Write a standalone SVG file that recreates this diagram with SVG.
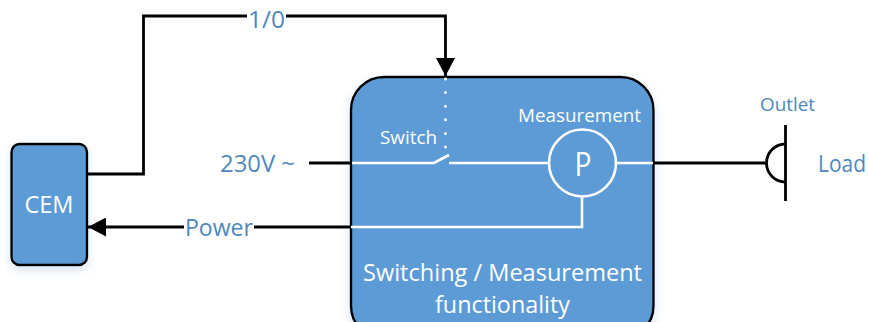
<svg xmlns="http://www.w3.org/2000/svg" width="869" height="322" viewBox="0 0 869 322">
<style>
text{font-family:"Open Sans","Noto Sans","Liberation Sans",sans-serif}
.box{fill:#5b9bd5;stroke:#000;stroke-width:2.4;filter:url(#sh)}
.k{fill:none;stroke:#000;stroke-width:2.8}
.w{fill:none;stroke:#fff;stroke-width:2.6}
.tb{fill:#4f88bd;font-size:23px}
.tw{fill:#fff;font-size:23px}
.ts{fill:#fff;font-size:18.500px}
</style>
<defs>
<filter id="sh" x="-20%" y="-20%" width="140%" height="140%"><feDropShadow dx="0" dy="4" stdDeviation="5" flood-color="#5b9bd5" flood-opacity="0.25"/></filter>
<marker id="ah" markerUnits="userSpaceOnUse" markerWidth="19" markerHeight="19" refX="18" refY="9.500" orient="auto"><path d="M0,0L18,9.500L0,19Z" fill="#000"/></marker>
</defs>
<g id="cem"><rect class="box" x="11.500" y="144" width="75.500" height="121" rx="8"/><text class="tw" x="24.500" y="213" textLength="49" lengthAdjust="spacingAndGlyphs">CEM</text></g>
<g id="unit"><rect class="box" x="351" y="77" width="302.500" height="262" rx="33"/>
<text class="tw" x="363" y="281" textLength="279" lengthAdjust="spacingAndGlyphs">Switching / Measurement</text>
<text class="tw" x="435" y="313" textLength="135" lengthAdjust="spacingAndGlyphs">functionality</text>
<text class="ts" x="380" y="144" textLength="57" lengthAdjust="spacingAndGlyphs">Switch</text>
<text class="ts" x="518" y="122" textLength="123" lengthAdjust="spacingAndGlyphs">Measurement</text></g>
<g id="meter"><circle class="w" cx="582.500" cy="163" r="33.500"/><text x="583" y="176" text-anchor="middle" fill="#fff" font-size="33" textLength="17" lengthAdjust="spacingAndGlyphs">P</text></g>
<g id="outlet"><path class="k" d="M785.500,125V201"/><path class="k" d="M785.500,144A19,19 0 0 0 785.500,182"/></g>
<g id="connectors">
<path class="k" d="M87,174H143.500V16H445.500V76" marker-end="url(#ah)"/>
<path class="k" d="M351,227H88" marker-end="url(#ah)"/>
<path class="k" d="M309,163H352"/>
<path class="k" d="M653,163H766"/>
<path class="w" d="M352,163H434L449,155M449,163H549"/>
<path class="w" d="M616,163H653"/>
<path class="w" d="M351,227H582V197"/>
<path d="M445.500,79V150" fill="none" stroke="#fff" stroke-width="3" stroke-linecap="round" stroke-dasharray="0 13.600"/>
</g>
<g id="labels">
<rect x="247" y="5" width="39" height="24" fill="#fff"/>
<text class="tb" x="248" y="28" textLength="37" lengthAdjust="spacingAndGlyphs">1/0</text>
<text class="tb" x="220" y="172" textLength="75" lengthAdjust="spacingAndGlyphs">230V ~</text>
<rect x="184" y="216" width="70" height="22" fill="#fff"/>
<text class="tb" x="185" y="236" textLength="68" lengthAdjust="spacingAndGlyphs">Power</text>
<text class="tb" x="818" y="172" textLength="48" lengthAdjust="spacingAndGlyphs">Load</text>
<text fill="#4f88bd" font-size="18.500" x="760" y="111" textLength="55" lengthAdjust="spacingAndGlyphs">Outlet</text>
</g>
</svg>
